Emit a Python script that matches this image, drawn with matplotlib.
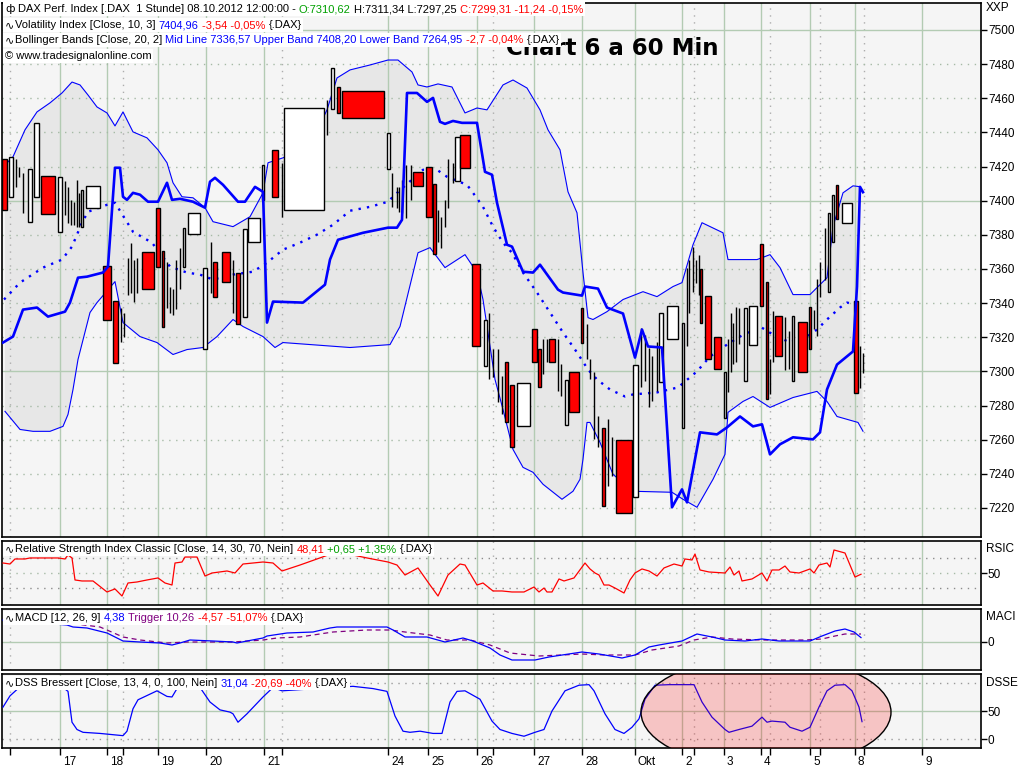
import matplotlib
matplotlib.use("Agg")
import matplotlib.pyplot as plt
from matplotlib.patches import Ellipse
from matplotlib.transforms import ScaledTranslation

################## Data ###################

# Time axis (chart units), day separators and session markers
day_pos = [60, 107, 158, 206, 264, 388, 428, 477, 534, 582, 635, 682, 724, 761, 810, 855, 922]
day_lbl = ["17", "18", "19", "20", "21", "24", "25", "26", "27", "28", "Okt",
           "2", "3", "4", "5", "8", "9"]
sess_pos = [10, 123, 282, 493, 694, 770, 820, 864]

# Candles: position, width, open, close
cnd_t = [4.5, 10.5, 16, 19, 23, 29.5, 36, 48, 60, 65, 68, 71, 74, 77, 79, 82, 93,
         107, 115.5, 121, 124, 128, 131, 134, 137, 148, 158, 163, 167, 170, 173, 176,
         180, 184, 194, 205, 211, 215, 226, 233, 238, 244.5, 254, 263, 275, 282, 304,
         327, 332.5, 338.5, 363, 388.5, 392, 397, 399, 402, 406, 411, 418, 429, 434.5,
         438, 441, 445, 448, 453, 457.5, 465, 476, 485.5, 489, 493, 498, 502, 506.5,
         512, 523.5, 534.5, 539.5, 543, 547, 552, 558, 561, 566.5, 574, 582, 587, 590,
         594, 598, 603, 608, 612, 624, 635.5, 641, 645, 649, 652, 657, 661, 672.5,
         682.5, 687, 689, 693, 696, 699, 701, 708, 717.5, 725, 728, 731, 733, 736, 739,
         745.5, 753, 761.5, 766.5, 770, 773, 778.5, 785, 789, 793, 802.5, 810, 814, 817,
         820, 825, 828.5, 832.5, 837, 846.5, 855.5, 860, 863]
cnd_w = [5, 4, 1, 1, 1, 4, 5, 14, 4, 1, 1, 1, 1, 1, 1, 2, 14,
         8, 5, 1, 1, 1, 1, 1, 1, 12, 4, 2, 1, 1, 1, 1,
         1, 2, 12, 4, 1, 4, 8, 1, 4, 4, 12, 2, 6, 1, 40,
         1, 3, 3, 42, 3, 1, 1, 1, 1, 1, 1, 10, 6, 3,
         1, 1, 1, 1, 1, 5, 10, 8, 3, 1, 1, 1, 1, 3,
         4, 13, 5, 3, 1, 1, 6, 1, 1, 3, 10, 2, 1, 1,
         1, 1, 3, 1, 1, 16, 5, 1, 1, 1, 1, 1, 4, 11,
         2, 1, 1, 1, 1, 1, 2, 6, 7, 2, 1, 1, 1, 1, 1,
         3, 8, 3, 2, 1, 1, 7, 1, 1, 2, 9, 2, 1, 1,
         1, 1, 2, 2, 2, 10, 4, 1, 1]
cnd_open = [7424.6, 7402.3, 7408.2, 7414.0, 7393.0, 7387.7, 7402.3, 7414.6, 7381.9, 7391.8,
            7387.1, 7386.0, 7386.0, 7384.8, 7384.8, 7384.8, 7395.9,
            7362.0, 7341.5, 7317.5, 7319.9, 7345.0, 7346.2, 7340.9, 7346.2, 7370.2, 7395.9,
            7370.8, 7337.4, 7334.5, 7333.3, 7336.3,
            7348.0, 7361.4, 7380.7, 7313.4, 7346.2, 7364.3, 7370.2, 7334.5, 7357.9, 7331.6,
            7376.0, 7400.6, 7429.8, 7390.6, 7394.7,
            7438.6, 7453.8, 7466.7, 7464.3, 7418.7, 7396.5, 7395.9, 7393.6, 7393.0, 7390.1,
            7400.6, 7417.0, 7419.9, 7409.9,
            7376.0, 7372.5, 7384.8, 7395.9, 7410.5, 7411.7, 7438.6, 7363.2, 7302.9, 7295.3,
            7296.5, 7281.9, 7274.9, 7305.3,
            7291.8, 7267.8, 7325.1, 7312.9, 7298.2, 7305.8, 7318.7, 7288.3, 7285.4, 7268.4,
            7299.4, 7337.4, 7307.0, 7295.3,
            7260.2, 7255.6, 7266.7, 7232.7, 7238.6, 7259.6, 7226.3, 7290.6, 7294.1, 7278.9,
            7282.5, 7288.3, 7293.6, 7318.7,
            7266.7, 7314.6, 7334.5, 7346.8, 7352.0, 7345.0, 7360.2, 7343.9, 7319.9, 7272.5,
            7287.7, 7299.4, 7304.1, 7305.3, 7315.8,
            7294.1, 7315.2, 7374.9, 7352.6, 7286.5, 7305.8, 7332.2, 7300.6, 7301.2, 7294.1,
            7329.2, 7338.0, 7324.6, 7320.5,
            7343.3, 7353.8, 7346.8, 7376.0, 7409.4, 7387.1, 7341.5, 7290.1, 7310.6]
cnd_close = [7394.7, 7425.7, 7424.6, 7419.9, 7416.4, 7418.7, 7445.6, 7392.4, 7414.0, 7411.7,
             7408.2, 7400.6, 7399.4, 7412.3, 7404.7, 7406.4, 7408.8,
             7330.4, 7304.7, 7337.4, 7334.5, 7366.7, 7375.4, 7365.5, 7366.7, 7348.0, 7361.4,
             7326.3, 7364.3, 7349.7, 7348.0, 7365.5,
             7372.5, 7384.2, 7393.0, 7360.8, 7376.0, 7343.3, 7352.6, 7365.5, 7327.5, 7383.6,
             7390.1, 7421.1, 7402.3, 7422.2, 7454.4,
             7459.1, 7477.8, 7451.5, 7448.5, 7439.8, 7416.4, 7408.2, 7408.2, 7412.3, 7421.1,
             7421.1, 7408.8, 7390.6, 7369.0,
             7394.7, 7390.6, 7400.6, 7424.6, 7422.2, 7437.4, 7419.3, 7314.6, 7330.4, 7334.5,
             7312.9, 7312.9, 7297.1, 7270.2,
             7255.6, 7293.0, 7305.3, 7290.6, 7318.7, 7318.7, 7305.8, 7318.7, 7304.1, 7294.7,
             7276.0, 7316.9, 7327.5, 7307.0,
             7299.4, 7273.7, 7221.1, 7271.9, 7261.4, 7217.0, 7303.5, 7325.7, 7321.6, 7314.0,
             7308.8, 7317.0, 7334.0, 7338.6,
             7328.1, 7360.8, 7365.5, 7373.1, 7365.5, 7368.4, 7328.1, 7307.0, 7301.2, 7299.4,
             7318.7, 7334.5, 7328.6, 7338.0, 7337.4,
             7337.4, 7338.6, 7338.6, 7283.6, 7307.0, 7335.1, 7308.8, 7331.6, 7323.4, 7332.2,
             7299.4, 7312.9, 7335.7, 7354.4,
             7363.8, 7384.2, 7393.0, 7403.5, 7389.5, 7398.8, 7287.1, 7314.6, 7299.3]

# Bollinger bands [Close, 20, 2]
up_t = [5, 13, 25, 37, 50, 62, 72, 80, 88, 97, 107, 115, 123, 133, 147, 158, 167, 173,
        182, 193, 205, 213, 233, 250, 263, 268, 283, 300, 315, 327, 337, 350, 370, 388,
        398, 412, 418, 427, 438, 452, 465, 477, 487, 503, 513, 527, 540, 548, 560, 568,
        577, 583, 588, 593, 607, 623, 643, 657, 673, 682, 693, 702, 723, 728, 757, 770,
        780, 793, 810, 827, 833, 843, 853, 860]
up_v = [7421.0, 7425.7, 7441.5, 7452.0, 7457.3, 7463.1, 7469.5, 7467.8, 7461.9, 7454.9,
        7451.4, 7443.8, 7452.0, 7440.3, 7436.8, 7429.8, 7422.2, 7410.5, 7402.3, 7401.7,
        7395.9, 7387.7, 7384.8, 7390.6, 7404.6, 7422.2, 7425.1, 7429.8, 7438.6, 7453.2,
        7471.9, 7476.6, 7479.5, 7482.4, 7482.4, 7475.4, 7467.8, 7466.6, 7468.4, 7466.6,
        7451.4, 7454.3, 7453.2, 7467.8, 7470.7, 7466.0, 7453.2, 7441.5, 7429.8, 7405.2,
        7392.9, 7357.9, 7331.5, 7330.4, 7335.0, 7342.1, 7346.7, 7343.8, 7349.7, 7352.0,
        7374.2, 7387.1, 7381.2, 7365.5, 7365.5, 7368.4, 7360.8, 7345.0, 7345.0, 7354.9,
        7384.8, 7404.6, 7408.7, 7408.2]
lo_t = [5, 20, 33, 50, 63, 68, 73, 78, 90, 97, 115, 123, 140, 157, 173, 187, 203, 217,
        233, 243, 263, 275, 283, 350, 390, 400, 418, 430, 445, 465, 477, 483, 495, 503,
        513, 523, 533, 543, 562, 573, 580, 583, 587, 590, 600, 613, 633, 672, 683, 697,
        713, 725, 728, 743, 753, 770, 793, 817, 827, 837, 858, 863]
lo_v = [7276.6, 7266.0, 7264.9, 7264.9, 7267.8, 7274.8, 7289.4, 7307.0, 7334.5, 7340.3,
        7352.6, 7328.6, 7320.4, 7316.9, 7309.9, 7312.8, 7314.0, 7320.4, 7330.4, 7326.3,
        7320.4, 7314.0, 7316.9, 7314.0, 7315.7, 7326.3, 7369.5, 7372.5, 7360.8, 7368.4,
        7357.9, 7342.1, 7295.3, 7277.7, 7254.3, 7243.8, 7240.9, 7233.9, 7225.1, 7229.8,
        7236.8, 7248.5, 7270.1, 7270.1, 7258.4, 7239.7, 7229.8, 7229.2, 7225.1, 7220.4,
        7236.8, 7251.4, 7276.0, 7282.4, 7285.3, 7278.9, 7284.7, 7288.3, 7282.4, 7273.6,
        7270.1, 7264.95]
mid_t = [4, 20, 43, 62, 72, 82, 88, 107, 115, 133, 152, 170, 187, 200, 213, 233, 253,
         267, 283, 300, 317, 333, 350, 370, 388, 395, 423, 437, 447, 467, 473, 483, 493,
         503, 512, 523, 537, 550, 563, 577, 588, 597, 610, 625, 633, 657, 678, 697, 710,
         727, 740, 760, 773, 790, 807, 817, 827, 840, 847, 857]
mid_v = [7342.1, 7352.0, 7360.8, 7365.5, 7373.1, 7387.1, 7393.5, 7397.6, 7398.8, 7381.8,
         7375.4, 7361.4, 7357.9, 7356.7, 7353.8, 7356.7, 7358.4, 7363.7, 7371.3, 7375.4,
         7380.1, 7385.9, 7394.1, 7396.4, 7399.4, 7403.5, 7418.1, 7418.1, 7414.0, 7409.3,
         7404.6, 7396.4, 7384.8, 7375.4, 7369.5, 7357.9, 7346.2, 7334.5, 7322.8, 7311.1,
         7301.1, 7295.3, 7289.4, 7285.3, 7286.5, 7287.7, 7290.6, 7300.0, 7308.7, 7315.7,
         7320.4, 7326.3, 7321.6, 7316.9, 7320.4, 7324.5, 7330.4, 7337.4, 7340.3, 7339.1]

# Volatility Index [Close, 10, 3]
vol_t = [3, 13, 23, 37, 48, 65, 70, 78, 87, 103, 108, 115, 120, 123, 127, 133, 140, 148,
         158, 167, 172, 180, 193, 205, 210, 215, 223, 238, 245, 255, 263, 267, 273, 303,
         325, 330, 338, 363, 388, 397, 402, 407, 417, 427, 433, 440, 445, 453, 462, 477,
         485, 492, 497, 507, 512, 523, 533, 540, 558, 563, 582, 585, 598, 607, 623, 635,
         642, 648, 662, 672, 682, 687, 700, 717, 727, 740, 753, 762, 770, 780, 793, 813,
         820, 827, 837, 853, 857, 860, 863]
vol_v = [7316.9, 7320.4, 7336.2, 7337.4, 7332.1, 7335.0, 7340.3, 7354.9, 7355.5, 7357.9,
         7361.4, 7419.3, 7419.3, 7402.3, 7400.5, 7404.6, 7403.5, 7399.4, 7399.4, 7410.5,
         7400.5, 7401.1, 7399.4, 7395.9, 7411.1, 7413.4, 7409.3, 7399.4, 7399.4, 7408.1,
         7405.2, 7328.6, 7340.9, 7340.3, 7350.8, 7365.5, 7377.1, 7381.2, 7384.2, 7384.2,
         7388.8, 7463.1, 7463.1, 7457.9, 7460.2, 7446.2, 7445.0, 7446.7, 7445.6, 7445.6,
         7416.9, 7415.2, 7398.8, 7374.2, 7373.1, 7358.4, 7357.9, 7362.5, 7347.9, 7346.2,
         7344.4, 7349.7, 7348.5, 7337.4, 7333.9, 7308.1, 7324.5, 7314.6, 7314.0, 7220.4,
         7230.9, 7223.3, 7264.3, 7263.1, 7267.2, 7273.6, 7267.8, 7269.0, 7251.4, 7257.3,
         7261.4, 7260.2, 7264.3, 7289.4, 7304.0, 7311.7, 7349.7, 7408.1, 7405.0]

# Relative Strength Index Classic [Close, 14, 30, 70]
rsi_t = [3, 10, 15, 25, 30, 58, 65, 68, 72, 75, 82, 88, 93, 107, 115, 122, 128, 137, 147,
         158, 165, 172, 175, 182, 185, 197, 205, 212, 227, 235, 243, 263, 273, 282, 300,
         317, 328, 353, 367, 388, 397, 405, 418, 430, 438, 448, 460, 465, 477, 483, 493,
         502, 512, 524, 534, 539, 544, 547, 552, 559, 564, 574, 585, 590, 595, 599, 604,
         609, 615, 624, 630, 635, 642, 649, 657, 664, 674, 682, 685, 692, 695, 700, 709,
         725, 730, 734, 739, 742, 752, 762, 767, 772, 779, 785, 790, 799, 810, 814, 819,
         827, 830, 834, 845, 855, 861]
rsi_v = [62.9, 61.6, 68.1, 68.1, 69.4, 69.4, 68.1, 73.2, 69.4, 41.0, 39.7, 39.7, 39.7,
         25.5, 29.4, 20.3, 37.1, 38.4, 41.0, 43.6, 37.1, 34.5, 62.9, 64.2, 70.6, 70.6,
         46.1, 50.0, 52.6, 50.0, 61.6, 64.2, 62.9, 52.6, 60.3, 68.1, 73.2, 73.2, 69.4,
         64.2, 60.3, 47.4, 56.5, 34.5, 20.3, 47.4, 61.6, 60.3, 34.5, 37.1, 26.8, 26.8,
         25.5, 25.5, 31.9, 25.5, 30.6, 25.5, 25.5, 42.3, 39.7, 43.6, 62.9, 55.2, 50.0,
         47.4, 34.5, 34.5, 30.6, 24.2, 41.0, 50.0, 55.2, 52.6, 46.1, 56.5, 61.6, 59.0,
         68.1, 66.8, 74.5, 53.9, 51.3, 50.0, 57.7, 47.4, 52.6, 39.7, 42.3, 50.0, 39.7,
         53.9, 53.9, 59.0, 51.3, 50.0, 55.2, 50.0, 60.3, 62.9, 57.7, 79.7, 75.8, 44.8,
         48.4]

# MACD [12, 26, 9]
macd_t = [3, 40, 67, 73, 87, 107, 123, 140, 160, 172, 180, 190, 213, 233, 237, 247, 263,
          267, 287, 313, 330, 337, 387, 393, 405, 427, 445, 463, 473, 490, 500, 512, 535,
          549, 582, 599, 622, 635, 649, 659, 682, 697, 712, 725, 745, 762, 779, 810, 822,
          835, 845, 854, 861]
macd_v = [22, 19, 17, 15, 14, 9, 1, 0, -1, -3, -1, 2, 1, 0, -1, 1, 4, 6, 9, 10, 14, 15,
          15, 12, 5, 5, 0, 4, 1, -6, -13, -18, -18, -15, -10, -12, -16, -13, -5, -3, 1, 8,
          5, 2, 1, 3, 1, 1, 6, 11, 13, 10, 4.4]
trig_t = [3, 60, 100, 107, 123, 140, 167, 187, 233, 263, 277, 300, 333, 367, 390, 405,
          430, 447, 470, 490, 510, 539, 562, 582, 605, 635, 652, 679, 694, 712, 732, 762,
          805, 822, 835, 845, 861]
trig_v = [24, 20, 15, 12, 5, 2, -1, 0, 0, 2, 4, 5, 10, 12, 12, 10, 7, 2, 2, -3, -11,
          -14, -13, -12, -13, -13, -8, -4, 2, 5, 3, 2, 2, 3, 6, 8, 8]

# DSS Bressert [Close, 13, 4]
dss_t = [3, 10, 18, 28, 63, 68, 72, 77, 83, 100, 123, 127, 133, 138, 157, 167, 172, 177,
         187, 200, 210, 220, 230, 233, 238, 247, 263, 273, 282, 333, 353, 373, 387, 395,
         403, 410, 420, 433, 442, 450, 457, 465, 480, 492, 500, 512, 524, 535, 544, 552,
         565, 579, 589, 594, 605, 615, 624, 632, 639, 645, 655, 669, 694, 702, 712, 725,
         729, 739, 752, 762, 767, 772, 785, 790, 802, 810, 819, 827, 835, 845, 852, 859,
         862]
dss_v = [57, 77, 90, 94, 92, 85, 30, 17, 12, 10, 6, 14, 54, 70, 86, 76, 75, 90, 96, 92,
         66, 52, 48, 45, 30, 45, 75, 92, 86, 92, 94, 90, 85, 41, 14, 12, 14, 10, 10, 66,
         85, 86, 71, 32, 17, 10, 5, 12, 17, 50, 86, 96, 97, 86, 45, 17, 10, 21, 36, 71,
         96, 97, 97, 66, 39, 17, 12, 17, 23, 39, 30, 32, 30, 21, 14, 21, 57, 86, 96, 97,
         86, 57, 31]

################## Style ###################

bg = "#F5F5F5"
band_fill = "#E7E7E7"
grid_grn = "#B3CBB3"
grid_dot = "#A6BAA6"
sess_dot = "#ADADAD"
blue = "#0000FF"
red = "#FF0000"
green = "#00A000"
purple = "#800080"
wave = "∿"

plt.rcParams.update({"font.family": "Liberation Sans", "font.size": 8})

W, H = 1024, 768
fig = plt.figure(figsize=(W / 100, H / 100), dpi=100)
fig.patch.set_facecolor("white")


def box(x0, y0, x1, y1):
    return [x0 / W, 1 - y1 / H, (x1 - x0) / W, (y1 - y0) / H]


ax = fig.add_axes(box(2, 3, 981, 537))
ax_rsi = fig.add_axes(box(2, 541, 981, 605))
ax_macd = fig.add_axes(box(2, 609, 981, 670))
ax_dss = fig.add_axes(box(2, 674, 981, 748))


def setup(a, ylim, yticks, solid_h, dotted_h, dotted_col=grid_dot):
    a.set_facecolor(bg)
    a.set_xlim(2, 981)
    a.set_ylim(*ylim)
    for t in day_pos:
        a.axvline(t, color=grid_grn, lw=1, zorder=1)
    for t in sess_pos:
        a.axvline(t, color=sess_dot, lw=1, ls=(0, (1, 4)), zorder=1)
    for v in solid_h:
        a.axhline(v, color=grid_grn, lw=1, zorder=1)
    for v in dotted_h:
        a.axhline(v, color=dotted_col, lw=1, ls=(0, (1, 4)), zorder=1)
    a.yaxis.tick_right()
    a.set_yticks(yticks)
    a.tick_params(axis="y", direction="out", length=4, width=1, pad=1, labelsize=8.5)
    a.tick_params(axis="x", bottom=False, labelbottom=False)
    for s in a.spines.values():
        s.set_linewidth(1.2)


def colored_line(a, parts, x, y, z=6):
    # chain text pieces; a leading blank becomes a fixed gap (ink extents drop spaces)
    prev = None
    for s, c in parts:
        gap = 3.2 if s.startswith(" ") else 0.6
        s = s.strip()
        fam = "DejaVu Sans" if s in (wave, "ф") else "Liberation Sans"
        kw = dict(color=c, fontsize=8, va="center", ha="left", zorder=z, family=fam,
                  bbox=dict(boxstyle="square,pad=0.15", fc="white", ec="none"))
        if prev is None:
            prev = a.annotate(s, xy=(0, 1), xycoords="axes fraction", xytext=(x, -y),
                              textcoords="offset pixels", **kw)
        else:
            prev = a.annotate(s, xy=(1, 0.5), xycoords=prev, xytext=(gap, 0),
                              textcoords="offset pixels", **kw)


################## Price panel ###################

setup(ax, (7203, 7515.8), list(range(7220, 7501, 20)), [7300, 7400, 7500],
      [v for v in range(7220, 7501, 20) if v % 100])

# Band area
ax.fill(up_t + lo_t[::-1], up_v + lo_v[::-1], color=band_fill, lw=0, zorder=0.5)
ax.plot(up_t, up_v, color=blue, lw=0.8, zorder=2)
ax.plot(lo_t, lo_v, color=blue, lw=0.8, zorder=2)
ax.plot(mid_t, mid_v, color=blue, lw=1.7, ls=(0, (1, 2.6)), zorder=2.5)

# Candles
thin = [i for i, w in enumerate(cnd_w) if w <= 1]
wide = [i for i, w in enumerate(cnd_w) if w > 1]
ax.vlines([cnd_t[i] for i in thin],
          [min(cnd_open[i], cnd_close[i]) for i in thin],
          [max(cnd_open[i], cnd_close[i]) for i in thin],
          color="black", lw=1, zorder=3)
ax.bar([cnd_t[i] for i in wide],
       [cnd_close[i] - cnd_open[i] for i in wide],
       bottom=[cnd_open[i] for i in wide],
       width=[cnd_w[i] for i in wide],
       color=[red if cnd_close[i] < cnd_open[i] else "white" for i in wide],
       edgecolor="black", lw=1, zorder=3)

# Volatility index
ax.plot(vol_t, vol_v, color=blue, lw=1.9, zorder=4)

ax.text(0.623, 0.915, "Chart 6 a 60 Min", transform=ax.transAxes, ha="center",
        va="center", fontsize=16.5, fontweight="bold", color="black", zorder=5,
        family="DejaVu Sans")

colored_line(ax, [("ф", "black"),
                  (" DAX Perf. Index [.DAX  1 Stunde] 08.10.2012 12:00:00 -", "black"),
                  (" O:7310,62", green), (" H:7311,34 L:7297,25", "black"),
                  (" C:7299,31 -11,24 -0,15%", red)], 3, 6)
colored_line(ax, [(wave, "black"), ("Volatility Index [Close, 10, 3]", "black"),
                  (" 7404,96", blue), (" -3,54 -0,05%", red), (" {.DAX}", "black")], 3, 22)
colored_line(ax, [(wave, "black"), ("Bollinger Bands [Close, 20, 2]", "black"),
                  (" Mid Line 7336,57 Upper Band 7408,20 Lower Band 7264,95", blue),
                  (" -2,7 -0,04%", red), (" {.DAX}", "black")], 3, 37)
colored_line(ax, [("© www.tradesignalonline.com", "black")], 3, 53)

################## RSI ###################

setup(ax_rsi, (8.7, 91.3), [50], [], [50])
for v in (70, 30):
    ax_rsi.axhline(v, color="#8C8C8C", lw=1, ls=(0, (1, 4)), zorder=1)
ax_rsi.plot(rsi_t, rsi_v, color=red, lw=0.9, zorder=3)
colored_line(ax_rsi, [(wave, "black"),
                      ("Relative Strength Index Classic [Close, 14, 30, 70, Nein]", "black"),
                      (" 48,41", red), (" +0,65 +1,35%", green), (" {.DAX}", "black")], 3, 8)

################## MACD ###################

setup(ax_macd, (-28, 33), [0], [0], [])
ax_macd.plot(trig_t, trig_v, color=purple, lw=0.9, ls=(0, (4, 3)), zorder=3)
ax_macd.plot(macd_t, macd_v, color=blue, lw=0.9, zorder=3.5)
colored_line(ax_macd, [(wave, "black"), ("MACD [12, 26, 9]", "black"), (" 4,38", blue),
                       (" Trigger 10,26", purple), (" -4,57 -51,07%", red),
                       (" {.DAX}", "black")], 3, 9)

################## DSS ###################

setup(ax_dss, (-16, 116), [0, 50], [50], [0, 100], dotted_col="#9A9A9A")
ax_dss.plot(dss_t, dss_v, color=blue, lw=0.9, zorder=3)
ax_dss.add_patch(Ellipse((766, 48), 250, 200, facecolor=(1, 0, 0, 0.2),
                         edgecolor="black", lw=1, zorder=4))
colored_line(ax_dss, [(wave, "black"), ("DSS Bressert [Close, 13, 4, 0, 100, Nein]", "black"),
                      (" 31,04", blue), (" -20,69 -40%", red), (" {.DAX}", "black")], 3, 9)

ax_dss.tick_params(axis="x", bottom=True, labelbottom=True, direction="out",
                   length=5, width=1, pad=1, labelsize=8.5)
ax_dss.set_xticks(day_pos, day_lbl)
ax_dss.set_xticks(sess_pos, minor=True)
ax_dss.tick_params(axis="x", which="minor", bottom=True, direction="out", length=5, width=1)
shift = ScaledTranslation(3 / 100, 0, fig.dpi_scale_trans)
for lab in ax_dss.get_xticklabels():
    lab.set_horizontalalignment("left")
    lab.set_transform(lab.get_transform() + shift)

# Panel names on the right
for name, ypx in [("XXP", 8), ("RSIC", 549), ("MACI", 617), ("DSSE", 683)]:
    fig.text(986 / W, 1 - ypx / H, name, fontsize=8.5, va="center", ha="left")

fig.savefig("out.png", dpi=100, facecolor="white")
